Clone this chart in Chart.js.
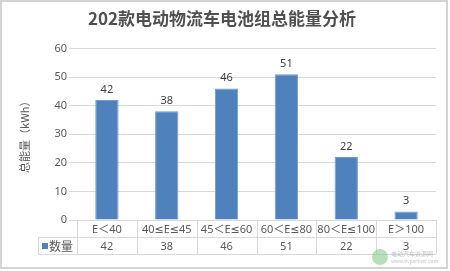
<!DOCTYPE html>
<html>
<head>
<meta charset="utf-8">
<script src="https://cdn.jsdelivr.net/npm/chart.js@4.4.0/dist/chart.umd.min.js"></script>
<style>
  html, body { margin: 0; padding: 0; background: #fff; }
  #wrap { width: 450px; height: 271px; }
</style>
</head>
<body>
<div id="wrap"><canvas id="c" width="450" height="271"></canvas></div>
<script>
const categories = ['E＜40', '40≤E≤45', '45＜E≤60', '60＜E≤80', '80＜E≤100', 'E＞100'];
const seriesName = '数量';
const values = [42, 38, 46, 51, 22, 3];
const yTicks = [0, 10, 20, 30, 40, 50, 60];

const FONT = '"Noto Sans CJK SC", "Noto Sans", sans-serif';
const NUMFONT = '"Noto Sans", "DejaVu Sans", "Noto Sans CJK SC", sans-serif';
const TEXT = '#595959';
const LINE = '#d9d9d9';
const BAR = '#4f81bd';

// labels above the bars
const valueLabels = {
  id: 'valueLabels',
  afterDatasetsDraw(chart) {
    const ctx = chart.ctx;
    const meta = chart.getDatasetMeta(0);
    ctx.save();
    ctx.font = '11px ' + NUMFONT;
    ctx.fillStyle = '#404040';
    ctx.textAlign = 'center';
    ctx.textBaseline = 'bottom';
    meta.data.forEach((bar, i) => {
      ctx.fillText(values[i], bar.x, bar.y - 5);
    });
    ctx.restore();
  }
};

// data table under the plot + frame + watermark
const dataTable = {
  id: 'dataTable',
  afterDraw(chart) {
    const ctx = chart.ctx;
    const area = chart.chartArea;
    const x = chart.scales.x;
    const top = area.bottom;
    const rowH = 17;
    const mid = top + rowH;
    const bot = top + rowH * 2;
    const legendLeft = 38;
    const n = categories.length;
    const step = (area.right - area.left) / n;

    ctx.save();
    ctx.strokeStyle = LINE;
    ctx.lineWidth = 1;
    ctx.beginPath();
    ctx.moveTo(area.left, top + 0.5); ctx.lineTo(area.right, top + 0.5);
    ctx.moveTo(legendLeft, mid + 0.5); ctx.lineTo(area.right, mid + 0.5);
    ctx.moveTo(legendLeft, bot + 0.5); ctx.lineTo(area.right, bot + 0.5);
    ctx.moveTo(legendLeft + 0.5, mid); ctx.lineTo(legendLeft + 0.5, bot);
    for (let i = 0; i <= n; i++) {
      const px = Math.round(area.left + step * i) + 0.5;
      ctx.moveTo(px, top); ctx.lineTo(px, bot);
    }
    ctx.stroke();

    ctx.font = '11px ' + NUMFONT;
    ctx.fillStyle = TEXT;
    ctx.textAlign = 'center';
    ctx.textBaseline = 'middle';
    categories.forEach((c, i) => {
      const cx = x.getPixelForValue(i);
      ctx.fillText(c, cx, top + rowH / 2 + 1);
      ctx.fillText(values[i], cx, mid + rowH / 2 + 1);
    });

    // legend key
    ctx.fillStyle = BAR;
    ctx.fillRect(legendLeft + 4, mid + 6, 6, 6);
    ctx.fillStyle = TEXT;
    ctx.textAlign = 'left';
    ctx.font = '12px ' + FONT;
    ctx.fillText(seriesName, legendLeft + 11, mid + rowH / 2 + 1);

    // watermark
    ctx.globalAlpha = 0.55;
    ctx.fillStyle = '#7cc47f';
    ctx.beginPath();
    ctx.arc(380, 257, 8, 0, Math.PI * 2);
    ctx.fill();
    ctx.globalAlpha = 0.6;
    ctx.fillStyle = '#999';
    ctx.font = '6px ' + FONT;
    ctx.fillText('电动汽车资源网', 391, 254);
    ctx.font = '5px ' + FONT;
    ctx.fillText('www.evpartner.com', 391, 261);
    ctx.globalAlpha = 1;

    // outer frame
    ctx.strokeStyle = '#d4d4d4';
    ctx.lineWidth = 2;
    ctx.strokeRect(1, 1, 446, 267);
    ctx.restore();
  }
};

new Chart(document.getElementById('c'), {
  type: 'bar',
  data: {
    labels: categories,
    datasets: [{
      label: seriesName,
      data: values,
      backgroundColor: BAR,
      borderColor: '#6f9bd0',
      borderWidth: 1,
      barPercentage: 0.39,
      categoryPercentage: 1
    }]
  },
  options: {
    responsive: false,
    animation: false,
    devicePixelRatio: 1,
    layout: { padding: { left: 8, right: 14, top: 0, bottom: 51 } },
    plugins: {
      legend: { display: false },
      tooltip: { enabled: false },
      title: {
        display: true,
        text: '202款电动物流车电池组总能量分析',
        color: '#505050',
        font: { family: FONT, size: 17, weight: 'bold' },
        padding: { top: 8, bottom: 20 }
      }
    },
    scales: {
      x: { display: false },
      y: {
        min: 0,
        max: 60,
        afterBuildTicks(scale) {
          scale.ticks = yTicks.map(v => ({ value: v }));
        },
        afterFit(scale) { scale.width = 69; },
        border: { display: false },
        grid: { color: LINE, tickLength: 8, drawOnChartArea: true },
        ticks: { color: TEXT, font: { family: NUMFONT, size: 11 }, padding: 2 },
        title: {
          display: true,
          text: '总能量（kWh）',
          color: TEXT,
          font: { family: FONT, size: 11 },
          padding: { top: 10, bottom: 0 }
        }
      }
    }
  },
  plugins: [valueLabels, dataTable]
});
</script>
</body>
</html>
